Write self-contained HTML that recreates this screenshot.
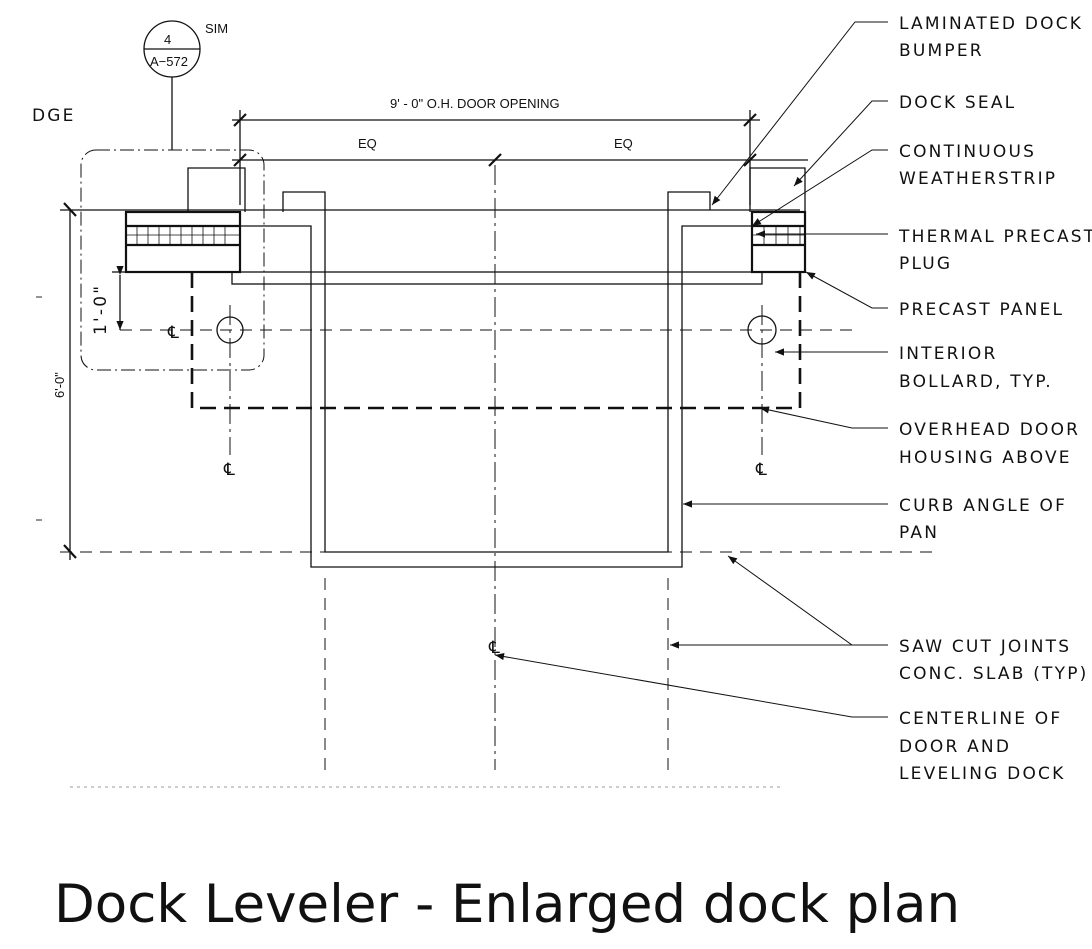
<!DOCTYPE html>
<html><head><meta charset="utf-8"><style>
html,body{margin:0;padding:0;background:#fff;}
svg{display:block}
.l{font-family:"DejaVu Sans","Liberation Sans",sans-serif;font-size:17px;letter-spacing:2.2px;fill:#111}
.d{font-family:"Liberation Sans",sans-serif;font-size:13px;fill:#111}
</style></head><body>
<svg width="1092" height="949" viewBox="0 0 1092 949" xmlns="http://www.w3.org/2000/svg">
<defs><marker id="a" viewBox="0 0 10 10" refX="10" refY="5" markerWidth="18" markerHeight="9" markerUnits="userSpaceOnUse" orient="auto"><path d="M0,1L10,5L0,9z" fill="#111"/></marker></defs>
<g stroke="#111" fill="none" stroke-width="1.3">
<circle cx="172" cy="49" r="28"/><line x1="144" y1="49" x2="200" y2="49"/>
<line x1="172" y1="77" x2="172" y2="150"/>
<rect x="81" y="150" width="183" height="220" rx="15" stroke-dasharray="14,4,2,4" stroke-width="1"/>
<line x1="232" y1="120" x2="760" y2="120"/>
<line x1="232" y1="160" x2="808" y2="160"/>
<line x1="240" y1="110" x2="240" y2="205"/>
<line x1="750" y1="110" x2="750" y2="205"/>
<g stroke-width="2.2"><line x1="234" y1="126" x2="246" y2="114"/><line x1="744" y1="126" x2="756" y2="114"/>
<line x1="234" y1="166" x2="246" y2="154"/><line x1="744" y1="166" x2="756" y2="154"/><line x1="489" y1="166" x2="501" y2="154"/>
<line x1="64" y1="203" x2="76" y2="216"/><line x1="64" y1="545" x2="76" y2="558"/></g>
<line x1="60" y1="210" x2="800" y2="210"/>
<line x1="70" y1="210" x2="70" y2="560"/>
<polyline points="188,212 188,168 245,168 245,212"/>
<polyline points="750,212 750,168 805,168 805,212"/>
<polyline points="283,212 283,192 325,192 325,552 668,552 668,192 710,192 710,210"/>
<polyline points="240,226 311,226 311,567 682,567 682,226 752,226"/>
<rect x="232" y="272" width="530" height="12"/>
<g stroke-width="2.2">
<rect x="126" y="212" width="114" height="60"/><line x1="126" y1="226" x2="240" y2="226"/><line x1="126" y1="245" x2="240" y2="245"/>
<rect x="752" y="212" width="53" height="60"/><line x1="752" y1="226" x2="805" y2="226"/><line x1="752" y1="245" x2="805" y2="245"/>
</g>
<g stroke-width="0.8">
<path d="M137 226v19M148 226v19M159 226v19M170 226v19M181 226v19M192 226v19M203 226v19M214 226v19M225 226v19M126 235h114"/>
<path d="M764 226v19M776 226v19M788 226v19M800 226v19M752 235h53"/>
</g>
<polyline points="192,272 192,408 800,408 800,272" stroke-width="2.6" stroke-dasharray="16,8"/>
<circle cx="230" cy="330" r="13"/><circle cx="762" cy="330" r="14"/>
<g stroke-width="1" stroke-dasharray="20,5,3,5">
<line x1="230" y1="305" x2="230" y2="455"/><line x1="762" y1="305" x2="762" y2="455"/>
<line x1="495" y1="165" x2="495" y2="770"/>
</g>
<g stroke-width="1" stroke-dasharray="12,8">
<line x1="120" y1="330" x2="855" y2="330"/>
<line x1="60" y1="552" x2="940" y2="552"/>
<line x1="325" y1="578" x2="325" y2="770"/><line x1="668" y1="578" x2="668" y2="770"/>
</g>
<line x1="120" y1="275" x2="120" y2="330" marker-start="url(#a)" marker-end="url(#a)"/>
<line x1="112" y1="272" x2="126" y2="272"/>
<g stroke-width="1">
<polyline points="888,22 855,22 712,205" marker-end="url(#a)"/>
<polyline points="888,101 872,101 794,186" marker-end="url(#a)"/>
<polyline points="888,150 872,150 752,226" marker-end="url(#a)"/>
<line x1="888" y1="234" x2="756" y2="234" marker-end="url(#a)"/>
<polyline points="888,308 872,308 806,272" marker-end="url(#a)"/>
<line x1="888" y1="352" x2="775" y2="352" marker-end="url(#a)"/>
<polyline points="888,428 852,428 760,408" marker-end="url(#a)"/>
<line x1="888" y1="504" x2="683" y2="504" marker-end="url(#a)"/>
<polyline points="888,645 852,645 728,556" marker-end="url(#a)"/>
<line x1="852" y1="645" x2="670" y2="645" marker-end="url(#a)"/>
<polyline points="888,717 852,717 495,655" marker-end="url(#a)"/>
</g>
<line x1="70" y1="787" x2="780" y2="787" stroke="#999" stroke-width="1" stroke-dasharray="3,4"/>
<path d="M36 297l6 0M36 520l6 0" stroke="#555"/>
</g>
<text class="d" x="164" y="44" font-size="12">4</text>
<text class="d" x="150" y="66" font-size="12">A−572</text>
<text class="d" x="205" y="33" font-size="11">SIM</text>
<text class="l" x="32" y="121">DGE</text>
<text class="d" x="390" y="108" font-size="14">9' - 0" O.H. DOOR OPENING</text>
<text class="d" x="358" y="148" font-size="14">EQ</text>
<text class="d" x="614" y="148" font-size="14">EQ</text>
<text class="l" transform="translate(106,335) rotate(-90)" font-size="21">1'-0"</text>
<text class="d" transform="translate(64,398) rotate(-90)" font-size="14">6'-0"</text>
<g class="l" font-size="16" letter-spacing="0">
<text x="168" y="338">℄</text><text x="224" y="475">℄</text><text x="756" y="475">℄</text><text x="489" y="653">℄</text></g>
<g class="l">
<text x="899" y="29">LAMINATED DOCK</text><text x="899" y="56">BUMPER</text>
<text x="899" y="108">DOCK SEAL</text>
<text x="899" y="157">CONTINUOUS</text><text x="899" y="184">WEATHERSTRIP</text>
<text x="899" y="242">THERMAL PRECAST</text><text x="899" y="269">PLUG</text>
<text x="899" y="315">PRECAST PANEL</text>
<text x="899" y="359">INTERIOR</text><text x="899" y="387">BOLLARD, TYP.</text>
<text x="899" y="435">OVERHEAD DOOR</text><text x="899" y="463">HOUSING ABOVE</text>
<text x="899" y="511">CURB ANGLE OF</text><text x="899" y="538">PAN</text>
<text x="899" y="652">SAW CUT JOINTS</text><text x="899" y="679">CONC. SLAB (TYP)</text>
<text x="899" y="724">CENTERLINE OF</text><text x="899" y="752">DOOR AND</text><text x="899" y="779">LEVELING DOCK</text>
</g>
<text x="54" y="922" font-family="'DejaVu Sans','Liberation Sans',sans-serif" font-size="53" fill="#111">Dock Leveler - Enlarged dock plan</text>
</svg>
</body></html>
